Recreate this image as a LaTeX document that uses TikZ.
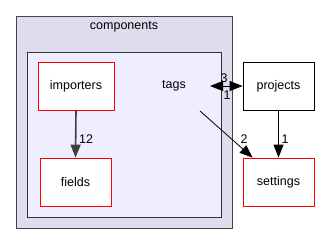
\documentclass[tikz,border=0pt]{standalone}
\usepackage{fontspec}
\setmainfont{Liberation Sans}
\usetikzlibrary{arrows.meta}
\begin{document}
\begin{tikzpicture}[x=1pt,y=-1pt,
  every node/.style={font=\fontsize{12.5}{14}\selectfont},
  dirbox/.style={draw=red, fill=white, line width=0.8pt, minimum width=#1, minimum height=48pt, inner sep=0pt},
  dirbox/.default=73pt,
  extbox/.style={draw=black, fill=white, line width=0.8pt, minimum width=71pt, minimum height=48pt, inner sep=0pt},
  tip/.tip={Triangle[length=13pt,width=10pt]},
  dep/.style={-tip, line width=0.8pt},
  lbl/.style={inner sep=0pt}]
\useasboundingbox (0,0) rectangle (320,244);
\draw[fill={rgb,255:red,221;green,221;blue,238}, draw={rgb,255:red,68;green,68;blue,68}, line width=1pt] (16,16) rectangle (232,228);
\node[lbl] (comp) at (124,27) {components};
\draw[fill={rgb,255:red,238;green,238;blue,255}, draw={rgb,255:red,51;green,51;blue,51}, line width=1pt] (27,52) rectangle (221,217);
\node[lbl] (tags) at (174,86) {tags};
\coordinate (tagsR) at (210,86);
\coordinate (tagsS) at (200,111);
\node[dirbox=76pt] (imp) at (76,86) {importers};
\node[dirbox=71pt] (fields) at (75.5,182) {fields};
\node[extbox] (proj) at (278.5,86) {projects};
\node[dirbox=71pt] (set) at (278.5,182) {settings};
\draw[dep, draw={rgb,255:red,64;green,64;blue,64}, line width=1.6pt] (imp.south) -- (fields.north);
\node[lbl] (l12) at (86,139) {12};
\draw[dep, tip-tip] (tagsR) -- (proj.west);
\node[lbl] (l3) at (224,78) {3};
\node[lbl] (l1a) at (227,95) {1};
\draw[dep] (tagsS) -- ([xshift=10pt]set.north west);
\node[lbl] (l2) at (244,139) {2};
\draw[dep] (proj.south) -- (set.north);
\node[lbl] (l1b) at (285,139) {1};
\end{tikzpicture}
\end{document}
